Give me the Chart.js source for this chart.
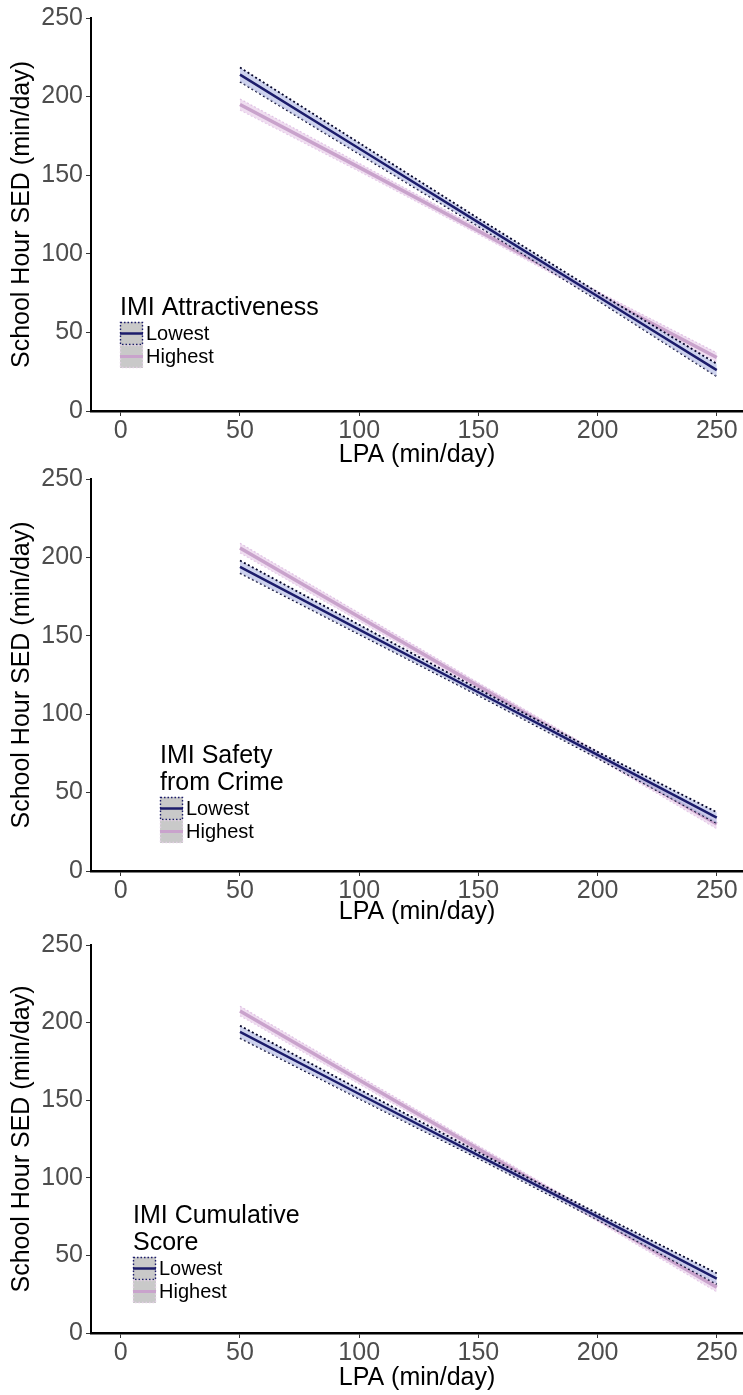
<!DOCTYPE html>
<html>
<head>
<meta charset="utf-8">
<script src="https://cdn.jsdelivr.net/npm/chart.js@4.4.1/dist/chart.umd.min.js"></script>
<style>
    body { margin: 0; background: #ffffff; width: 743px; height: 1395px; position: relative; overflow: hidden; }
    canvas { position: absolute; left: 0; }
</style>
</head>
<body>
<canvas id="c1" width="743" height="472" style="top:0px"></canvas>
<canvas id="c2" width="743" height="482" style="top:452px"></canvas>
<canvas id="c3" width="743" height="481" style="top:914px"></canvas>
<script>
var lpa = [50, 100, 150, 200, 250];
var xTicks = [0, 50, 100, 150, 200, 250];
var yTicks = [0, 50, 100, 150, 200, 250];
var groups = ["Lowest", "Highest"];

// panel 1: IMI Attractiveness
var lowFit1 = [214, 167, 120, 73, 26];
var lowUp1 = [218.5, 170.5, 122.5, 75.5, 30];
var lowLo1 = [209.5, 163.5, 117.5, 70.5, 22];
var highFit1 = [195, 155, 114.5, 74, 34];
var highUp1 = [198.5, 157.5, 116.5, 76, 37];
var highLo1 = [191.5, 152.5, 112.5, 72, 31];

// panel 2: IMI Safety from Crime
var lowFit2 = [194, 154, 114, 74, 34];
var lowUp2 = [198, 157, 116, 76, 37.5];
var lowLo2 = [190, 151, 112, 72, 30.5];
var highFit2 = [206, 162, 118, 74, 30];
var highUp2 = [209, 164.5, 120, 76, 33];
var highLo2 = [203, 159.5, 116, 72, 27];

// panel 3: IMI Cumulative Score
var lowFit3 = [194, 154, 114.5, 75, 35];
var lowUp3 = [198, 157, 116.5, 77, 38.5];
var lowLo3 = [190, 151, 112.5, 73, 31.5];
var highFit3 = [207.5, 163, 118.5, 74, 29.5];
var highUp3 = [210.5, 165.5, 120.5, 76, 32.5];
var highLo3 = [204.5, 160.5, 116.5, 72, 26.5];

var navy = "#1c1c6b";
var lilac = "#c9a3cc";
var FONT = "'Liberation Sans', Arial, sans-serif";

function pts(ys) {
    return lpa.map(function(x, i) { return {x: x, y: ys[i]}; });
}

// legend drawn inside the plot area, like the ggplot one
var insideLegend = {
    id: 'insideLegend',
    afterDraw: function(chart, args, opts) {
        var ctx = chart.ctx;
        ctx.save();
        ctx.fillStyle = "#000";
        ctx.font = "25px " + FONT;
        ctx.textBaseline = "alphabetic";
        opts.title.forEach(function(line, i) {
            ctx.fillText(line, opts.x, opts.y + i * 27);
        });
        var boxTop = opts.y + (opts.title.length - 1) * 27 + 7;
        var bw = 23, bh = 23;
        for (var i = 0; i < groups.length; i++) {
            var by = boxTop + i * bh;
            ctx.fillStyle = "#c9c9c9";
            ctx.fillRect(opts.x, by, bw, bh);
            ctx.setLineDash([1.5, 2]);
            ctx.lineWidth = 1.4;
            ctx.strokeStyle = i == 0 ? navy : "#e2cfe4";
            ctx.strokeRect(opts.x + 0.5, by + 0.5, bw - 1, bh - 1);
            ctx.setLineDash([]);
            ctx.lineWidth = i == 0 ? 2.5 : 3;
            ctx.strokeStyle = i == 0 ? navy : lilac;
            ctx.beginPath();
            ctx.moveTo(opts.x, by + bh / 2);
            ctx.lineTo(opts.x + bw, by + bh / 2);
            ctx.stroke();
            ctx.fillStyle = "#000";
            ctx.font = "20px " + FONT;
            ctx.textBaseline = "middle";
            ctx.fillText(groups[i], opts.x + bw + 3, by + bh / 2 + 1);
        }
        ctx.restore();
    }
};

function generateChart(canvasId, low, lowUp, lowLo, high, highUp, highLo, legendTitle, legendPos, topPad, xHeight, xTitlePad) {
    var ctx = document.getElementById(canvasId).getContext('2d');
    return new Chart(ctx, {
        type: 'line',
        data: {
            datasets: [
                {label: groups[0], data: pts(low), borderColor: navy, borderWidth: 2.5, fill: false},
                {label: groups[0] + " upper", data: pts(lowUp), borderColor: "#05052a", borderWidth: 1.8,
                    borderDash: [2, 2.5], fill: '+1', backgroundColor: "rgba(190,196,232,0.75)"},
                {label: groups[0] + " lower", data: pts(lowLo), borderColor: "#05052a", borderWidth: 1.8,
                    borderDash: [2, 2.5], fill: false},
                {label: groups[1], data: pts(high), borderColor: lilac, borderWidth: 3.5, fill: false},
                {label: groups[1] + " upper", data: pts(highUp), borderColor: "rgba(222,190,226,0.9)", borderWidth: 1.2,
                    borderDash: [2, 2], fill: '+1', backgroundColor: "rgba(236,214,238,0.8)"},
                {label: groups[1] + " lower", data: pts(highLo), borderColor: "rgba(222,190,226,0.9)", borderWidth: 1.2,
                    borderDash: [2, 2], fill: false}
            ]
        },
        options: {
            responsive: false,
            animation: false,
            elements: { point: { radius: 0 }, line: { tension: 0 } },
            layout: { padding: { top: topPad, left: 0, right: 0, bottom: 0 } },
            plugins: {
                legend: { display: false },
                tooltip: { enabled: false },
                insideLegend: { title: legendTitle, x: legendPos[0], y: legendPos[1] }
            },
            scales: {
                x: {
                    type: 'linear',
                    min: -12.5,
                    max: 261,
                    afterBuildTicks: function(s) { s.ticks = xTicks.map(function(v) { return {value: v}; }); },
                    afterFit: function(s) { s.height = xHeight; },
                    border: { display: true, color: "#000", width: 2.5 },
                    grid: { drawOnChartArea: false, drawTicks: true, tickLength: 5, color: "#333", lineWidth: 1 },
                    ticks: { color: "#4d4d4d", font: { family: FONT, size: 25 }, padding: 0, maxRotation: 0 },
                    title: { display: true, text: "LPA (min/day)", color: "#000",
                        font: { family: FONT, size: 25 }, padding: { top: 0, bottom: xTitlePad } }
                },
                y: {
                    min: 0,
                    max: 250,
                    afterBuildTicks: function(s) { s.ticks = yTicks.map(function(v) { return {value: v}; }); },
                    afterFit: function(s) { s.width = 91; },
                    border: { display: true, color: "#000", width: 2 },
                    grid: { drawOnChartArea: false, drawTicks: true, tickLength: 5, color: "#333", lineWidth: 1 },
                    ticks: { color: "#4d4d4d", font: { family: FONT, size: 25 }, padding: 3 },
                    title: { display: true, text: "School Hour SED (min/day)", color: "#000",
                        font: { family: FONT, size: 25 }, padding: { top: 7, bottom: 0 } }
                }
            }
        },
        plugins: [insideLegend]
    });
}

generateChart('c1', lowFit1, lowUp1, lowLo1, highFit1, highUp1, highLo1, ["IMI Attractiveness"], [120, 315], 18, 61, 2);
generateChart('c2', lowFit2, lowUp2, lowLo2, highFit2, highUp2, highLo2, ["IMI Safety", "from Crime"], [160, 311], 27, 63, 7);
generateChart('c3', lowFit3, lowUp3, lowLo3, highFit3, highUp3, highLo3, ["IMI Cumulative", "Score"], [133, 309], 31, 62, 2);
</script>
</body>
</html>
